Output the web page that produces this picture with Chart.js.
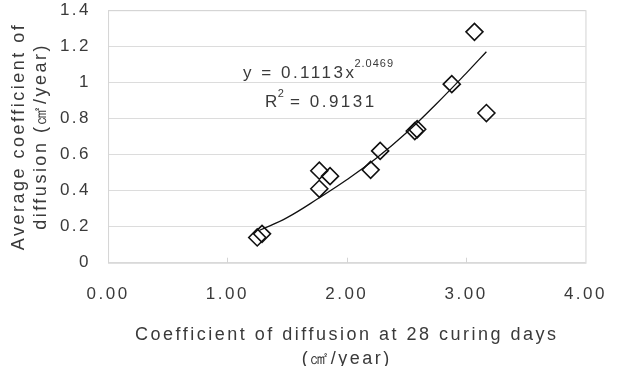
<!DOCTYPE html>
<html>
<head>
<meta charset="utf-8">
<script src="https://cdn.jsdelivr.net/npm/chart.js@4/dist/chart.umd.min.js"></script>
<style>
  html, body { margin: 0; padding: 0; background: #fff; }
  #wrap { width: 620px; height: 366px; }
</style>
</head>
<body>
<div id="wrap"><canvas id="diffChart" width="620" height="366"></canvas></div>
<script>
// measured points (28 day coefficient vs average coefficient)
var coef28   = [1.25, 1.29, 1.77, 1.77, 1.86, 2.20, 2.28, 2.57, 2.59, 2.88, 3.07, 3.17];
var avgCoef  = [0.14, 0.16, 0.41, 0.51, 0.48, 0.515, 0.62, 0.73, 0.74, 0.99, 1.28, 0.83];

// power trendline
var trendX = [1.27, 1.50, 1.77, 2.00, 2.25, 2.50, 2.75, 3.00, 3.17];
var trendY = [0.18, 0.25, 0.36, 0.46, 0.58, 0.72, 0.88, 1.05, 1.17];

var xTickLabels = ['0.00', '1.00', '2.00', '3.00', '4.00'];
var yTickLabels = ['0', '0.2', '0.4', '0.6', '0.8', '1', '1.2', '1.4'];

var eqText = 'y = 0.1113x';
var eqPower = '2.0469';
var r2Value = '0.9131';

var fontFam = '"Liberation Sans", Arial, sans-serif';
var textCol = '#3a3a3a';
var letterGap = '2.5px';

function pairs(xs, ys) {
    var out = [];
    for (var i = 0; i < xs.length; i++) out.push({x: xs[i], y: ys[i]});
    return out;
}

// spaced-out lettering like the original
var spacing = {
    id: 'spacing',
    beforeUpdate: function(chart) { chart.ctx.letterSpacing = letterGap; },
    beforeLayout: function(chart) { chart.ctx.letterSpacing = letterGap; },
    beforeDraw: function(chart) { chart.ctx.letterSpacing = letterGap; }
};

// light frame round the plot area
var frame = {
    id: 'frame',
    beforeDatasetsDraw: function(chart) {
        var a = chart.chartArea, c = chart.ctx;
        c.save();
        c.strokeStyle = '#d4d4d4';
        c.lineWidth = 1;
        c.strokeRect(a.left + 0.5, a.top + 0.5, a.right - a.left, a.bottom - a.top);
        // small inner ticks on the x axis
        var xs = chart.scales.x;
        for (var i = 1; i < xTickLabels.length - 1; i++) {
            var px = Math.round(xs.getPixelForValue(i)) + 0.5;
            c.beginPath();
            c.moveTo(px, a.bottom);
            c.lineTo(px, a.bottom - 5);
            c.stroke();
        }
        c.restore();
    }
};

// trendline equation text
var equation = {
    id: 'equation',
    afterDatasetsDraw: function(chart) {
        var a = chart.chartArea, c = chart.ctx;
        c.save();
        c.fillStyle = textCol;
        c.textBaseline = 'middle';
        c.letterSpacing = letterGap;
        c.font = '17px ' + fontFam;
        var x0 = a.left + 135, y0 = a.top + 63;
        c.fillText(eqText, x0, y0);
        var w = c.measureText(eqText).width;
        c.font = '11px ' + fontFam;
        c.letterSpacing = '1px';
        c.fillText(eqPower, x0 + w - 2, y0 - 9);
        c.font = '17px ' + fontFam;
        c.letterSpacing = letterGap;
        var x1 = a.left + 157, y1 = a.top + 92;
        c.fillText('R', x1, y1);
        var rw = c.measureText('R').width;
        c.font = '11px ' + fontFam;
        c.fillText('2', x1 + rw - 2, y1 - 8);
        c.font = '17px ' + fontFam;
        c.fillText(' = ' + r2Value, x1 + rw + 3, y1);
        c.restore();
    }
};

var ctx = document.getElementById('diffChart');
var chart = new Chart(ctx, {
    type: 'scatter',
    data: {
        datasets: [{
            label: 'data',
            data: pairs(coef28, avgCoef),
            pointStyle: 'rectRot',
            pointRadius: 8.5,
            pointHoverRadius: 8.5,
            borderColor: '#111',
            backgroundColor: 'rgba(0,0,0,0)',
            pointBorderWidth: 1.6,
            order: 1
        }, {
            label: 'trend',
            data: pairs(trendX, trendY),
            showLine: true,
            pointRadius: 0,
            borderColor: '#111',
            borderWidth: 1.3,
            tension: 0.4,
            fill: false,
            order: 2
        }]
    },
    options: {
        responsive: false,
        animation: false,
        events: [],
        layout: { padding: { top: 0, right: 30, bottom: -5, left: 8 } },
        plugins: {
            legend: { display: false },
            tooltip: { enabled: false }
        },
        scales: {
            x: {
                type: 'linear',
                min: 0,
                max: 4,
                ticks: {
                    stepSize: 1,
                    padding: 13,
                    color: textCol,
                    font: { family: fontFam, size: 17 },
                    callback: function(v, i) { return xTickLabels[i]; }
                },
                grid: { display: false },
                border: { display: false },
                title: {
                    display: true,
                    text: ['Coefficient of diffusion at 28 curing days', '(㎠/year)'],
                    color: textCol,
                    font: { family: fontFam, size: 18, lineHeight: 1.33 },
                    padding: { top: 6, bottom: 0 }
                }
            },
            y: {
                min: 0,
                max: 1.4,
                ticks: {
                    stepSize: 0.2,
                    padding: 0,
                    color: textCol,
                    font: { family: fontFam, size: 17 },
                    callback: function(v, i) { return yTickLabels[i]; }
                },
                grid: {
                    color: '#dcdcdc',
                    drawTicks: true,
                    tickLength: 17,
                    tickColor: 'rgba(0,0,0,0)'
                },
                border: { display: false },
                title: {
                    display: true,
                    text: ['Average coefficient of', 'diffusion (㎠/year)'],
                    color: textCol,
                    font: { family: fontFam, size: 18, lineHeight: 1.22 },
                    padding: { top: 0, bottom: 8 }
                }
            }
        }
    },
    plugins: [spacing, frame, equation]
});
</script>
</body>
</html>
